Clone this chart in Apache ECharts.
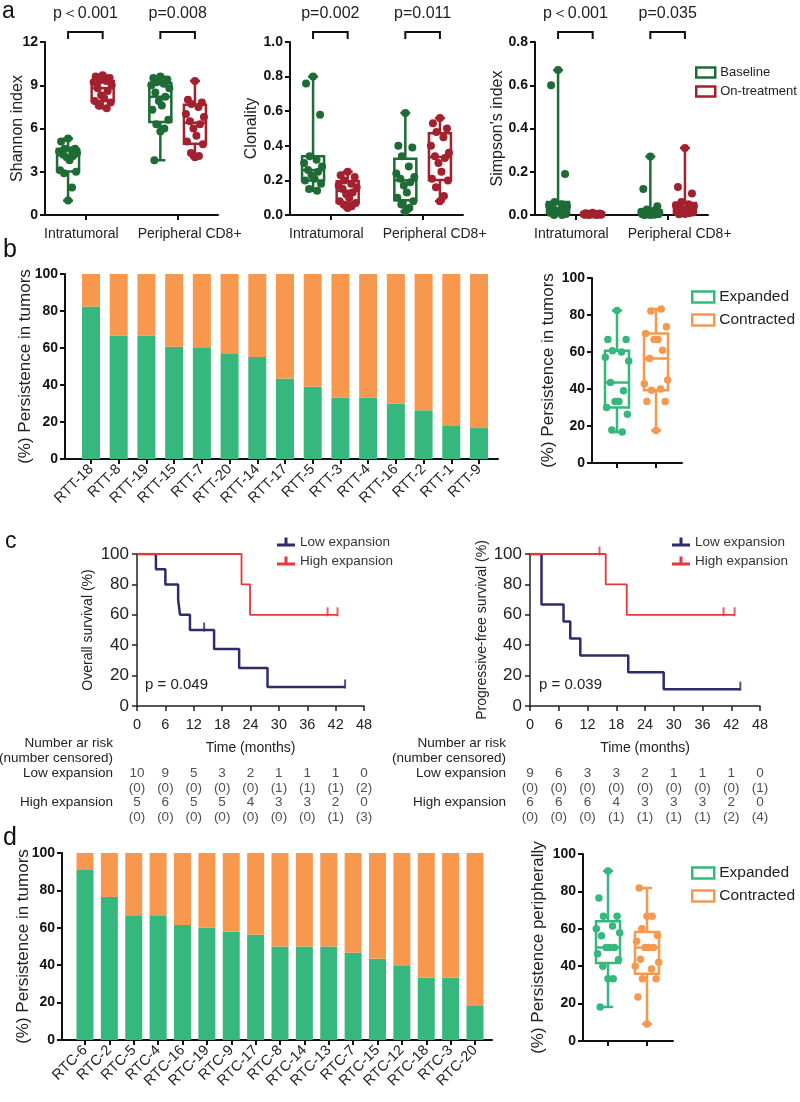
<!DOCTYPE html>
<html>
<head>
<meta charset="utf-8">
<script src="https://cdn.jsdelivr.net/npm/echarts@6/dist/echarts.min.js"></script>
<style>
html, body { margin: 0; padding: 0; background: #fff; }
#main { width: 800px; height: 1102px; }
</style>
</head>
<body>
<div id="main"></div>
<script>
// ---------- data ----------
var groupNames = ['Intratumoral', 'Peripheral CD8+'];

// panel a: one array per group (Intratumoral, Peripheral CD8+)
var shannonBaseline = [
    [5.3, 5.1, 4.6, 4.6, 4.5, 4.4, 4.3, 4.2, 4.1, 4.0, 3.8, 3.1, 3.0, 2.9, 1.9, 1.0],
    [9.6, 9.5, 9.4, 9.2, 9.1, 9.0, 8.8, 8.5, 8.2, 7.9, 7.6, 7.3, 6.6, 6.3, 6.0, 5.8, 3.8]
];
var shannonTreat = [
    [9.7, 9.6, 9.5, 9.3, 9.3, 9.2, 9.0, 8.8, 8.6, 8.3, 8.1, 7.9, 7.8, 7.6, 7.4],
    [9.3, 8.0, 7.8, 7.7, 7.5, 7.0, 6.8, 6.5, 6.3, 6.0, 5.5, 5.1, 4.9, 4.3, 4.1, 4.0]
];
var clonalityBaseline = [
    [0.80, 0.76, 0.58, 0.34, 0.32, 0.30, 0.28, 0.26, 0.25, 0.23, 0.21, 0.20, 0.18, 0.15, 0.14],
    [0.59, 0.40, 0.39, 0.34, 0.28, 0.24, 0.22, 0.21, 0.19, 0.17, 0.13, 0.10, 0.08, 0.06, 0.04, 0.02]
];
var clonalityTreat = [
    [0.25, 0.23, 0.22, 0.20, 0.18, 0.17, 0.16, 0.15, 0.13, 0.12, 0.10, 0.08, 0.07, 0.06, 0.05, 0.04],
    [0.56, 0.53, 0.50, 0.48, 0.45, 0.40, 0.36, 0.34, 0.33, 0.30, 0.25, 0.21, 0.20, 0.16, 0.11, 0.08]
];
var simpsonBaseline = [
    [0.67, 0.60, 0.19, 0.06, 0.05, 0.045, 0.04, 0.03, 0.02, 0.02, 0.015, 0.01, 0.005, 0, 0],
    [0.27, 0.12, 0.04, 0.025, 0.02, 0.015, 0.012, 0.01, 0.008, 0.006, 0.005, 0.004, 0.003, 0.002, 0.001, 0, 0]
];
var simpsonTreat = [
    [0.01, 0.008, 0.007, 0.006, 0.005, 0.004, 0.004, 0.003, 0.003, 0.002, 0.002, 0.001, 0.001, 0, 0],
    [0.31, 0.13, 0.10, 0.06, 0.05, 0.045, 0.04, 0.035, 0.03, 0.025, 0.02, 0.015, 0.012, 0.01, 0.008, 0.005, 0.003]
];
var shannonP = ['p\uFF1C0.001', 'p=0.008'];
var clonalityP = ['p=0.002', 'p=0.011'];
var simpsonP = ['p\uFF1C0.001', 'p=0.035'];

// panel b
var rttNames = ['RTT-18', 'RTT-8', 'RTT-19', 'RTT-15', 'RTT-7', 'RTT-20', 'RTT-14', 'RTT-17',
    'RTT-5', 'RTT-3', 'RTT-4', 'RTT-16', 'RTT-2', 'RTT-1', 'RTT-9'];
var rttExpanded = [82.4, 66.7, 66.7, 60.7, 60, 57.1, 55.2, 43.5, 39.1, 33.3, 33.3, 30, 26.3, 17.9, 16.7];

// panel c (Kaplan-Meier steps: time in months, survival %)
var osLowT = [0, 4, 6, 8.7, 9.1, 11.2, 16.3, 21.6, 27.6, 44];
var osLowS = [100, 90, 80, 70, 60, 50, 37.5, 25, 12.5, 12.5];
var osLowCensT = [14.2, 44];
var osLowCensS = [50, 12.5];
var osHighT = [0, 22.1, 23.9, 42.4];
var osHighS = [100, 80, 60, 60];
var osHighCensT = [40.3, 42.4];
var osHighCensS = [60, 60];
var pfsLowT = [0, 2.4, 7, 8.4, 10.5, 20.5, 27.9, 43.9];
var pfsLowS = [100, 66.7, 55.6, 44.4, 33.3, 22.2, 11.1, 11.1];
var pfsLowCensT = [43.9];
var pfsLowCensS = [11.1];
var pfsHighT = [0, 15.8, 20.2, 42.7];
var pfsHighS = [100, 80, 60, 60];
var pfsHighCensT = [14.5, 40.4, 42.7];
var pfsHighCensS = [100, 60, 60];

var riskTimes = [0, 6, 12, 18, 24, 30, 36, 42, 48];
var riskRows = ['Number ar risk', '(number censored)', 'Low expansion', '', 'High expansion', ''];
var osLowRisk = [10, 9, 5, 3, 2, 1, 1, 1, 0];
var osLowCens = [0, 0, 0, 0, 0, 1, 1, 1, 2];
var osHighRisk = [5, 6, 5, 5, 4, 3, 3, 2, 0];
var osHighCens = [0, 0, 0, 0, 0, 0, 0, 1, 3];
var pfsLowRisk = [9, 6, 3, 3, 2, 1, 1, 1, 0];
var pfsLowCens = [0, 0, 0, 0, 0, 0, 0, 0, 1];
var pfsHighRisk = [6, 6, 6, 4, 3, 3, 3, 2, 0];
var pfsHighCens = [0, 0, 0, 1, 1, 1, 1, 2, 4];

// panel d
var rtcNames = ['RTC-6', 'RTC-2', 'RTC-5', 'RTC-4', 'RTC-16', 'RTC-19', 'RTC-9', 'RTC-17', 'RTC-8',
    'RTC-14', 'RTC-13', 'RTC-7', 'RTC-15', 'RTC-12', 'RTC-18', 'RTC-3', 'RTC-20'];
var rtcExpanded = [90.9, 76.5, 66.7, 66.7, 61.5, 60, 57.9, 56.3, 50, 50, 50, 46.7, 43.5, 40, 33.3, 33.3, 18.2];

// ---------- styles ----------
var FONT = "'Liberation Sans', Arial, sans-serif";
var NARROW = "'Liberation Sans Narrow', 'Liberation Sans', Arial, sans-serif";
var A_GREEN = '#1e6b36', A_RED = '#a3202e';
var B_GREEN = '#35b77e', B_ORANGE = '#f8984e';
var NAVY = '#2b2c68', KM_RED = '#e8363d';
var JIT = [0, -7, 7, -3.5, 3.5, -9, 9, -5, 5, -1.5, 1.5, -8, 8, -4, 4, 0, -6, 6];
var KM_ICON = 'path://M0,6H18V9H0Z M7.5,0H10.5V6H7.5Z';

var grids = [], xAxes = [], yAxes = [], series = [], legends = [];

function quantile(s, p) {
    var n = s.length, pos = (n + 1) * p;
    if (pos <= 1) return s[0];
    if (pos >= n) return s[n - 1];
    var lo = Math.floor(pos), f = pos - lo;
    return s[lo - 1] + f * (s[lo] - s[lo - 1]);
}
function boxStats(vals) {
    var s = vals.slice().sort(function (a, b) { return a - b; });
    return [s[0], quantile(s, 0.25), quantile(s, 0.5), quantile(s, 0.75), s[s.length - 1]];
}

function boxRenderer(color, boxW, capW) {
    return function (params, api) {
        var x = api.value(0);
        var p = [1, 2, 3, 4, 5].map(function (d) { return api.coord([x, api.value(d)]); });
        var cx = p[0][0], hb = boxW / 2, hc = capW / 2;
        function ls() { return { stroke: color, lineWidth: 2.5, fill: null }; }
        return {
            type: 'group',
            children: [
                { type: 'line', shape: { x1: cx, y1: p[0][1], x2: cx, y2: p[1][1] }, style: ls() },
                { type: 'line', shape: { x1: cx, y1: p[3][1], x2: cx, y2: p[4][1] }, style: ls() },
                { type: 'line', shape: { x1: cx - hc, y1: p[0][1], x2: cx + hc, y2: p[0][1] }, style: ls() },
                { type: 'line', shape: { x1: cx - hc, y1: p[4][1], x2: cx + hc, y2: p[4][1] }, style: ls() },
                { type: 'rect', shape: { x: cx - hb, y: p[3][1], width: boxW, height: p[1][1] - p[3][1] },
                    style: { stroke: color, lineWidth: 2.5, fill: '#fff' } },
                { type: 'line', shape: { x1: cx - hb, y1: p[2][1], x2: cx + hb, y2: p[2][1] }, style: ls() }
            ]
        };
    };
}

function addBoxes(gi, name, color, groups, xs, pxUnit, boxW, dotSize, spread) {
    series.push({
        type: 'custom', name: name, xAxisIndex: gi, yAxisIndex: gi, silent: true, z: 2,
        data: groups.map(function (vals, g) { return [xs[g]].concat(boxStats(vals)); }),
        renderItem: boxRenderer(color, boxW, 10)
    });
    var pts = [];
    groups.forEach(function (vals, g) {
        vals.forEach(function (v, i) {
            pts.push([xs[g] + JIT[i % JIT.length] * spread * pxUnit, v]);
        });
    });
    series.push({
        type: 'scatter', name: name, xAxisIndex: gi, yAxisIndex: gi, silent: true, z: 3,
        symbolSize: dotSize, itemStyle: { color: color, opacity: 1 }, data: pts
    });
}

function blackAxis(w) { return { show: true, onZero: false, lineStyle: { color: '#111', width: w } }; }
function blackTick(w) { return { show: true, length: 5, lineStyle: { color: '#111', width: w } }; }

function valueY(gi, max, step, name, gap, nameSize, labelFmt) {
    yAxes.push({
        gridIndex: gi, type: 'value', min: 0, max: max, interval: step,
        name: name, nameLocation: 'middle', nameGap: gap, nameMoveOverlap: false,
        nameTextStyle: { fontSize: nameSize, color: '#222', fontFamily: FONT },
        axisLine: blackAxis(2), axisTick: blackTick(2), splitLine: { show: false },
        axisLabel: { margin: 7, fontSize: 14, fontWeight: 'bold', color: '#111', fontFamily: FONT, formatter: labelFmt }
    });
}

// ---------- panel a ----------
var A_POS = [1.4, 4.6], A_SHIFT = 0.6;
function panelA(left, yMax, step, digits, yName, gap, base, treat, pTexts) {
    var gi = grids.length;
    grids.push({ left: left, top: 42, width: 173, height: 173, outerBoundsMode: 'none' });
    xAxes.push({
        gridIndex: gi, type: 'value', min: 0, max: 6,
        axisLine: blackAxis(2), axisTick: Object.assign(blackTick(2), { customValues: A_POS }),
        splitLine: { show: false },
        axisLabel: { customValues: A_POS, margin: 12, fontSize: 14, color: '#222', fontFamily: FONT,
            formatter: function (v) { return v < 3 ? '{a|' + groupNames[0] + '}' : '{b|' + groupNames[1] + '}'; },
            rich: {
                a: { fontSize: 14, color: '#222', fontFamily: FONT, padding: [0, 8, 0, 0] },
                b: { fontSize: 14, color: '#222', fontFamily: FONT, padding: [0, 0, 0, 24] }
            } }
    });
    valueY(gi, yMax, step, yName, gap, 16, function (v) { return v.toFixed(digits); });
    var pxUnit = 6 / 173;
    addBoxes(gi, 'Baseline', A_GREEN, base, A_POS.map(function (x) { return x - A_SHIFT; }), pxUnit, 22, 8, 1);
    addBoxes(gi, 'On-treatment', A_RED, treat, A_POS.map(function (x) { return x + A_SHIFT; }), pxUnit, 22, 8, 1);
    series.push({
        type: 'custom', xAxisIndex: gi, yAxisIndex: gi, clip: false, silent: true,
        data: A_POS.map(function (x) { return [x, yMax]; }),
        renderItem: function (params, api) {
            var l = api.coord([api.value(0) - A_SHIFT, api.value(1)]);
            var r = api.coord([api.value(0) + A_SHIFT, api.value(1)]);
            var top = l[1] - 10, foot = l[1] - 3;
            return {
                type: 'group',
                children: [
                    { type: 'polyline', shape: { points: [[l[0], foot], [l[0], top], [r[0], top], [r[0], foot]] },
                        style: { stroke: '#111', lineWidth: 2, fill: null } },
                    { type: 'text', style: { text: pTexts[params.dataIndex], x: (l[0] + r[0]) / 2, y: top - 18,
                        align: 'center', verticalAlign: 'middle', fill: '#222', font: '16px ' + FONT } }
                ]
            };
        }
    });
}
panelA(45, 12, 3, 0, 'Shannon index', 19, shannonBaseline, shannonTreat, shannonP);
panelA(290, 1.0, 0.2, 1, 'Clonality', 30, clonalityBaseline, clonalityTreat, clonalityP);
panelA(535, 0.8, 0.2, 1, "Simpson's index", 29, simpsonBaseline, simpsonTreat, simpsonP);
legends.push({
    left: 690, top: 61, orient: 'vertical', itemWidth: 19, itemHeight: 10, itemGap: 6, selectedMode: false,
    textStyle: { fontSize: 13, color: '#222', fontFamily: FONT },
    data: [
        { name: 'Baseline', icon: 'rect', itemStyle: { color: '#fff', borderColor: A_GREEN, borderWidth: 2.5 } },
        { name: 'On-treatment', icon: 'rect', itemStyle: { color: '#fff', borderColor: A_RED, borderWidth: 2.5 } }
    ]
});

// ---------- panels b and d: stacked bars ----------
function barRenderer(color, w) {
    return function (params, api) {
        var lo = api.coord([api.value(0), api.value(1)]);
        var hi = api.coord([api.value(0), api.value(2)]);
        return { type: 'rect', shape: { x: lo[0] - w / 2, y: hi[1], width: w, height: lo[1] - hi[1] },
            style: { fill: color } };
    };
}

function barPanel(left, top, width, height, names, expanded, firstTick, lastTick, barW, gap) {
    var gi = grids.length;
    grids.push({ left: left, top: top, width: width, height: height, outerBoundsMode: 'none' });
    var n = names.length, unit = (lastTick - firstTick) / (n - 1);
    var idx = names.map(function (_, i) { return i; });
    xAxes.push({
        gridIndex: gi, type: 'value',
        min: -(firstTick - left) / unit, max: (n - 1) + (left + width - lastTick) / unit,
        axisLine: blackAxis(2), axisTick: Object.assign(blackTick(2), { customValues: idx }),
        splitLine: { show: false },
        axisLabel: { customValues: idx, rotate: 45, margin: 8, fontSize: 14.5, color: '#222', fontFamily: FONT,
            formatter: function (v) { return names[Math.round(v)]; } }
    });
    valueY(gi, 100, 20, '(%) Persistence in tumors', gap, 17, null);
    // expanded share from 0, contracted share stacked on top up to 100
    series.push({
        type: 'custom', name: 'Expanded', xAxisIndex: gi, yAxisIndex: gi, silent: true,
        renderItem: barRenderer(B_GREEN, barW),
        data: idx.map(function (i) { return [i, 0, expanded[i]]; })
    });
    series.push({
        type: 'custom', name: 'Contracted', xAxisIndex: gi, yAxisIndex: gi, silent: true,
        renderItem: barRenderer(B_ORANGE, barW),
        data: idx.map(function (i) { return [i, expanded[i], 100]; })
    });
}

function persistBox(left, top, height, yName, gap, expanded, legendTop) {
    var gi = grids.length;
    grids.push({ left: left, top: top, width: 90, height: height, outerBoundsMode: 'none' });
    xAxes.push({
        gridIndex: gi, type: 'value', min: 0, max: 90,
        axisLine: blackAxis(2), axisTick: Object.assign(blackTick(2), { customValues: [25, 64] }),
        splitLine: { show: false }, axisLabel: { show: false }
    });
    valueY(gi, 100, 20, yName, gap, 17, null);
    addBoxes(gi, 'Expanded', B_GREEN, [expanded], [25], 1, 24, 7.5, 1.3);
    addBoxes(gi, 'Contracted', B_ORANGE, [expanded.map(function (v) { return 100 - v; })], [64], 1, 24, 7.5, 1.3);
    legends.push({
        left: 686, top: legendTop, orient: 'vertical', itemWidth: 22, itemHeight: 11, itemGap: 7, selectedMode: false,
        textStyle: { fontSize: 15.5, color: '#222', fontFamily: FONT },
        data: [
            { name: 'Expanded', icon: 'rect', itemStyle: { color: '#fff', borderColor: B_GREEN, borderWidth: 2.5 } },
            { name: 'Contracted', icon: 'rect', itemStyle: { color: '#fff', borderColor: B_ORANGE, borderWidth: 2.5 } }
        ]
    });
}

barPanel(65, 274, 433, 185, rttNames, rttExpanded, 91, 479, 18, 31);
persistBox(592, 278, 185, '(%) Persistence in tumors', 35, rttExpanded, 284);

// ---------- panel c: Kaplan-Meier ----------
function steps(t, s) { return t.map(function (v, i) { return [v, s[i]]; }); }

function kmPanel(left, width, yName, gap, low, lowCens, high, highCens, risk, legendLeft) {
    var gi = grids.length;
    grids.push({ left: left, top: 554, width: width, height: 152, outerBoundsMode: 'none' });
    xAxes.push({
        gridIndex: gi, type: 'value', min: 0, max: 48, interval: 6,
        name: 'Time (months)', nameLocation: 'middle', nameGap: 35, nameMoveOverlap: false,
        nameTextStyle: { fontSize: 14, color: '#222', fontFamily: NARROW },
        axisLine: { show: true, onZero: false, lineStyle: { color: '#222', width: 1.5 } },
        axisTick: { show: true, length: 5, lineStyle: { color: '#222', width: 1.5 } },
        splitLine: { show: false },
        axisLabel: { margin: 11, fontSize: 14.5, color: '#222', fontFamily: NARROW }
    });
    yAxes.push({
        gridIndex: gi, type: 'value', min: 0, max: 100, interval: 20,
        name: yName, nameLocation: 'middle', nameGap: gap, nameMoveOverlap: false,
        nameTextStyle: { fontSize: 14, color: '#222', fontFamily: FONT },
        axisLine: { show: true, onZero: false, lineStyle: { color: '#222', width: 1.5 } },
        axisTick: { show: true, length: 5, lineStyle: { color: '#222', width: 1.5 } },
        splitLine: { show: false },
        axisLabel: { margin: 8, fontSize: 17, color: '#222', fontFamily: FONT }
    });
    [['Low expansion', NAVY, low, lowCens, 2.5], ['High expansion', KM_RED, high, highCens, 1.8]].forEach(function (c) {
        series.push({
            type: 'line', name: c[0], xAxisIndex: gi, yAxisIndex: gi, step: 'end', symbol: 'none', silent: true,
            lineStyle: { color: c[1], width: c[4] }, itemStyle: { color: c[1] }, data: c[2]
        });
        series.push({
            type: 'scatter', name: c[0], xAxisIndex: gi, yAxisIndex: gi, symbol: 'rect', symbolSize: [2, 9],
            symbolOffset: [0, -3], silent: true, itemStyle: { color: c[1] }, data: c[3]
        });
    });
    legends.push({
        left: legendLeft, top: 530, orient: 'vertical', itemWidth: 18, itemHeight: 9, itemGap: 5, selectedMode: false,
        textStyle: { fontSize: 13.5, color: '#333', fontFamily: FONT },
        data: [
            { name: 'Low expansion', icon: KM_ICON, itemStyle: { color: NAVY } },
            { name: 'High expansion', icon: KM_ICON, itemStyle: { color: KM_RED } }
        ]
    });

    // number-at-risk table, sharing the time scale
    var ri = grids.length;
    grids.push({ left: left, top: 736, width: width, height: 89, outerBoundsMode: 'none' });
    xAxes.push({ gridIndex: ri, type: 'value', min: 0, max: 48, show: false });
    yAxes.push({
        gridIndex: ri, type: 'category', data: riskRows, inverse: true,
        axisLine: { show: false }, axisTick: { show: false }, splitLine: { show: false },
        axisLabel: { interval: 0, margin: 24, fontSize: 13.5, color: '#222', fontFamily: NARROW }
    });
    risk.forEach(function (r, k) {
        series.push({
            type: 'scatter', xAxisIndex: ri, yAxisIndex: ri, symbolSize: 1, silent: true,
            itemStyle: { color: 'rgba(0,0,0,0)' },
            label: { show: true, position: 'inside', fontSize: 13.5, color: '#222', fontFamily: NARROW,
                formatter: k % 2 ? function (p) { return '(' + p.value[2] + ')'; } : function (p) { return String(p.value[2]); } },
            data: riskTimes.map(function (t, i) { return [t, k + 2, r[i]]; })
        });
    });
}

kmPanel(137, 227, 'Overall survival (%)', 42,
    steps(osLowT, osLowS), steps(osLowCensT, osLowCensS),
    steps(osHighT, osHighS), steps(osHighCensT, osHighCensS),
    [osLowRisk, osLowCens, osHighRisk, osHighCens], 272);
kmPanel(530, 230, 'Progressive-free survival (%)', 41,
    steps(pfsLowT, pfsLowS), steps(pfsLowCensT, pfsLowCensS),
    steps(pfsHighT, pfsHighS), steps(pfsHighCensT, pfsHighCensS),
    [pfsLowRisk, pfsLowCens, pfsHighRisk, pfsHighCens], 667);

// ---------- panel d ----------
barPanel(62, 853, 430, 187, rtcNames, rtcExpanded, 85, 475, 17, 30);
persistBox(583, 854, 187, '(%) Persistence peripherally', 36, rtcExpanded, 860);

// ---------- chart ----------
var myChart = echarts.init(document.getElementById('main'));
myChart.setOption({
    animation: false,
    backgroundColor: '#fff',
    textStyle: { fontFamily: FONT },
    grid: grids,
    xAxis: xAxes,
    yAxis: yAxes,
    legend: legends,
    series: series,
    graphic: [
        { type: 'text', left: 2, top: 0, style: { text: 'a', font: '23px ' + FONT, fill: '#111' } },
        { type: 'text', left: 3, top: 238, style: { text: 'b', font: '25px ' + FONT, fill: '#111' } },
        { type: 'text', left: 5, top: 530, style: { text: 'c', font: '23px ' + FONT, fill: '#111' } },
        { type: 'text', left: 3, top: 826, style: { text: 'd', font: '25px ' + FONT, fill: '#111' } },
        { type: 'text', left: 145, top: 677, style: { text: 'p = 0.049', font: '15px ' + FONT, fill: '#222' } },
        { type: 'text', left: 539, top: 677, style: { text: 'p = 0.039', font: '15px ' + FONT, fill: '#222' } }
    ]
});
</script>
</body>
</html>
